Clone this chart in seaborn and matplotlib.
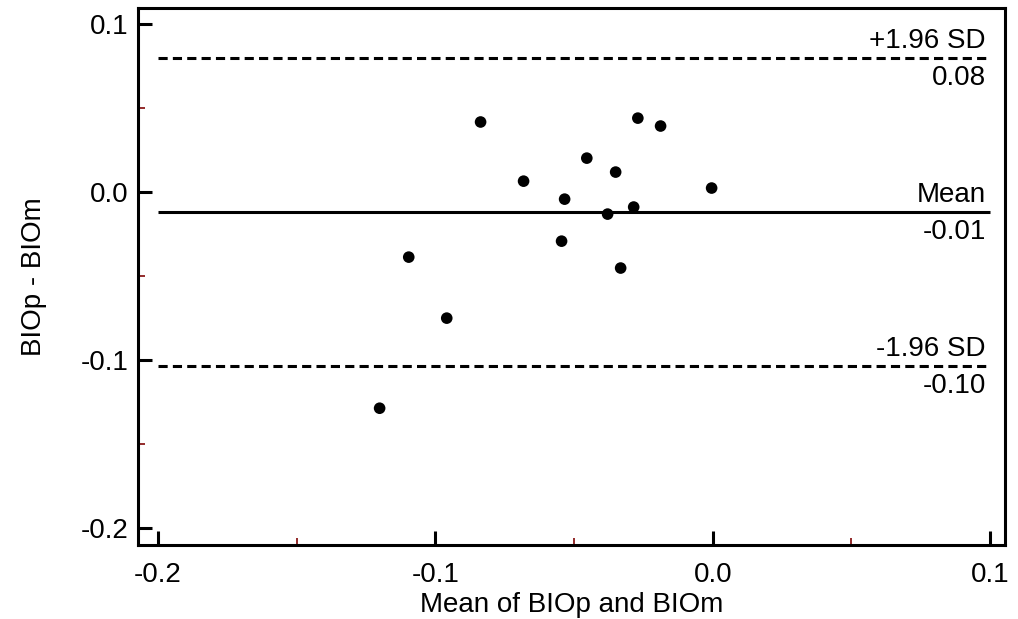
import numpy as np
import pandas as pd
import matplotlib
matplotlib.use("Agg")
import matplotlib.pyplot as plt
import seaborn as sns
from matplotlib.ticker import MultipleLocator

# Bland-Altman data
mean_vals = [-0.0837, -0.0270, -0.0188, -0.0454, -0.0350, -0.0682, -0.0004, -0.0534,
             -0.0285, -0.0379, -0.0545, -0.1096, -0.0332, -0.0959, -0.1201]
diff_vals = [0.0417, 0.0440, 0.0393, 0.0202, 0.0119, 0.0065, 0.0024, -0.0042,
             -0.0089, -0.0131, -0.0292, -0.0387, -0.0452, -0.0750, -0.1286]
x_ticks = [-0.2, -0.1, 0.0, 0.1]
y_ticks = [-0.2, -0.1, 0.0, 0.1]

df = pd.DataFrame({"mean": mean_vals, "diff": diff_vals})
md = df["diff"].mean()
sd = df["diff"].std()
upper = md + 1.96 * sd
lower = md - 1.96 * sd

sns.set_style("ticks")
plt.rcParams["font.family"] = ["Liberation Sans", "DejaVu Sans"]
plt.rcParams["text.color"] = "black"
plt.rcParams["axes.labelcolor"] = "black"
plt.rcParams["xtick.color"] = "black"
plt.rcParams["ytick.color"] = "black"

fig = plt.figure(figsize=(10.18, 6.19), dpi=100)
ax = fig.add_axes([0.1356, 0.1195, 0.8517, 0.8675])

sns.scatterplot(data=df, x="mean", y="diff", ax=ax, color="black", s=70,
                edgecolor="none", zorder=3)

x0, x1 = x_ticks[0], x_ticks[-1]
ax.hlines(md, x0, x1, color="black", lw=2.2)
ax.hlines([upper, lower], x0, x1, color="black", lw=2.2, linestyles=[(0, (3, 1.7))])

fs = 20
for y, top_txt, bot_txt in [(upper, "+1.96 SD", f"{upper:.2f}"),
                            (md, "Mean", f"{md:.2f}"),
                            (lower, "-1.96 SD", f"{lower:.2f}")]:
    ax.annotate(top_txt, (x1, y), xytext=(-3, 3), textcoords="offset points",
                ha="right", va="bottom", fontsize=fs, color="black")
    ax.annotate(bot_txt, (x1, y), xytext=(-3, -5), textcoords="offset points",
                ha="right", va="top", fontsize=fs, color="black")

ax.set_xlim(-0.2072, 0.1054)
ax.set_ylim(-0.210, 0.1095)
ax.set_xticks(x_ticks)
ax.set_yticks(y_ticks)
ax.set_xticklabels([f"{t:.1f}" for t in x_ticks])
ax.set_yticklabels([f"{t:.1f}" for t in y_ticks])
ax.xaxis.set_minor_locator(MultipleLocator(0.05))
ax.yaxis.set_minor_locator(MultipleLocator(0.05))
ax.tick_params(which="major", direction="in", length=10, width=2.2,
               labelsize=fs, pad=7, color="black", labelcolor="black")
ax.tick_params(which="minor", direction="in", length=5, width=1.3, color="#8b1a1a")
ax.tick_params(axis="x", which="major", pad=12)

for sp in ax.spines.values():
    sp.set_visible(True)
    sp.set_linewidth(2.2)
    sp.set_color("black")

ax.set_xlabel("Mean of BIOp and BIOm", fontsize=fs, labelpad=3, color="black")
ax.set_ylabel("BIOp - BIOm", fontsize=fs, labelpad=24, color="black")

fig.savefig("out.png", dpi=100, facecolor="white")
